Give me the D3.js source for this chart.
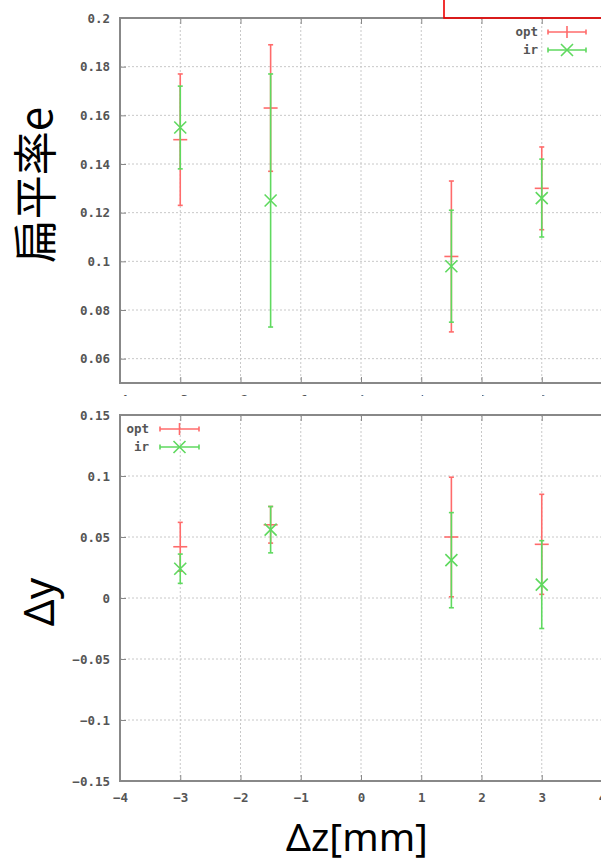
<!DOCTYPE html>
<html>
<head>
<meta charset="utf-8">
<script src="https://cdn.jsdelivr.net/npm/d3@7"></script>
<style>
  body { margin: 0; background: #fff; }
  svg { display: block; }
  .tick text { font-family: "DejaVu Sans Mono", monospace; font-size: 12.5px; font-weight: bold; fill: #555; }
  .grid line { stroke: #c8c8c8; stroke-dasharray: 2,2; }
  .frame { fill: none; stroke: #888; stroke-width: 2; }
</style>
</head>
<body>
<div id="chart"></div>
<script>
// x positions (Δz [mm])
var dz = [-3, -1.5, 1.5, 3];
var xTicks = [-4, -3, -2, -1, 0, 1, 2, 3, 4];

// top panel: flattening e
var eOpt    = [0.150, 0.163, 0.102, 0.130];
var eOptErr = [0.027, 0.026, 0.031, 0.017];
var eIr     = [0.155, 0.125, 0.098, 0.126];
var eIrErr  = [0.017, 0.052, 0.023, 0.016];
var eTicks  = [0.06, 0.08, 0.1, 0.12, 0.14, 0.16, 0.18, 0.2];

// bottom panel: Δy
var dyOpt    = [0.042, 0.060, 0.050, 0.044];
var dyOptErr = [0.020, 0.015, 0.049, 0.041];
var dyIr     = [0.024, 0.056, 0.031, 0.011];
var dyIrErr  = [0.012, 0.019, 0.039, 0.036];
var dyTicks  = [-0.15, -0.1, -0.05, 0, 0.05, 0.1, 0.15];

var RED = "#ff6b6b", GREEN = "#5fd95f";

var svg = d3.select("#chart").append("svg")
  .attr("width", 601).attr("height", 864);

var defs = svg.append("defs");
defs.append("clipPath").attr("id", "cutTop")
  .append("rect").attr("x", 0).attr("y", 0).attr("width", 601).attr("height", 396);

function panel(cfg) {
  var x = d3.scaleLinear().domain([-4, 4]).range([120, 602]);
  var y = d3.scaleLinear().domain(cfg.domain).range([cfg.bottom, cfg.top]);
  var g = svg.append("g");

  // grid
  var grid = g.append("g").attr("class", "grid");
  grid.selectAll(".gx").data(xTicks.slice(1, -1)).enter().append("line")
    .attr("x1", d => x(d)).attr("x2", d => x(d))
    .attr("y1", cfg.top).attr("y2", cfg.bottom);
  grid.selectAll(".gy").data(cfg.ticks.filter(d => d > cfg.domain[0] && d < cfg.domain[1])).enter().append("line")
    .attr("x1", 120).attr("x2", 602)
    .attr("y1", d => y(d)).attr("y2", d => y(d));

  // axes
  var yAxis = d3.axisLeft(y).tickValues(cfg.ticks).tickSize(-6).tickPadding(10)
    .tickFormat(d => (d === 0 ? "0" : d3.format("")(+d.toFixed(2))));
  var ya = g.append("g").attr("transform", "translate(120,0)").call(yAxis);
  ya.select(".domain").remove();
  ya.selectAll(".tick line").attr("stroke", "#888");

  var xAxis = d3.axisBottom(x).tickValues(xTicks).tickSize(-6).tickPadding(12)
    .tickFormat(d3.format("d"));
  var xa = g.append("g").attr("transform", "translate(0," + cfg.bottom + ")").call(xAxis);
  xa.select(".domain").remove();
  xa.selectAll(".tick line").attr("stroke", "#888");
  xa.selectAll(".tick text").attr("clip-path", cfg.clipLabels ? "url(#cutTop)" : null);

  // top ticks
  g.append("g").attr("transform", "translate(0," + cfg.top + ")")
    .call(d3.axisTop(x).tickValues(xTicks).tickSize(-6).tickFormat(""))
    .call(s => { s.select(".domain").remove(); s.selectAll(".tick line").attr("stroke", "#888"); });

  g.append("rect").attr("class", "frame")
    .attr("x", 120).attr("y", cfg.top).attr("width", 482).attr("height", cfg.bottom - cfg.top);

  function series(vals, errs, color, marker) {
    var s = g.append("g").attr("stroke", color).attr("stroke-width", 1.6).attr("fill", "none");
    dz.forEach(function (z, i) {
      var cx = x(z), lo = y(vals[i] - errs[i]), hi = y(vals[i] + errs[i]), cy = y(vals[i]);
      s.append("line").attr("x1", cx).attr("x2", cx).attr("y1", lo).attr("y2", hi);
      s.append("line").attr("x1", cx - 2.5).attr("x2", cx + 2.5).attr("y1", lo).attr("y2", lo);
      s.append("line").attr("x1", cx - 2.5).attr("x2", cx + 2.5).attr("y1", hi).attr("y2", hi);
      if (marker === "plus") {
        s.append("line").attr("x1", cx - 7).attr("x2", cx + 7).attr("y1", cy).attr("y2", cy);
      } else {
        s.append("path").attr("d", "M" + (cx - 6) + "," + (cy - 6) + "L" + (cx + 6) + "," + (cy + 6) +
          "M" + (cx - 6) + "," + (cy + 6) + "L" + (cx + 6) + "," + (cy - 6));
      }
    });
  }
  series(cfg.opt, cfg.optErr, RED, "plus");
  series(cfg.ir, cfg.irErr, GREEN, "cross");

  // legend
  var L = cfg.legend;
  [["opt", RED, "plus"], ["ir", GREEN, "cross"]].forEach(function (e, i) {
    var ly = L.y + i * 18;
    g.append("text").attr("x", L.tx).attr("y", ly).attr("dy", "0.35em")
      .attr("text-anchor", "end").attr("font-family", "DejaVu Sans Mono")
      .attr("font-size", 12.5).attr("font-weight", "bold").attr("fill", "#555").text(e[0]);
    var lg = g.append("g").attr("stroke", e[1]).attr("stroke-width", 1.6);
    lg.append("line").attr("x1", L.x1).attr("x2", L.x2).attr("y1", ly).attr("y2", ly);
    lg.append("line").attr("x1", L.x1).attr("x2", L.x1).attr("y1", ly - 2.5).attr("y2", ly + 2.5);
    lg.append("line").attr("x1", L.x2).attr("x2", L.x2).attr("y1", ly - 2.5).attr("y2", ly + 2.5);
    var mx = (L.x1 + L.x2) / 2;
    if (e[2] === "plus") {
      lg.append("line").attr("x1", mx).attr("x2", mx).attr("y1", ly - 6).attr("y2", ly + 6);
    } else {
      lg.append("path").attr("fill", "none").attr("d", "M" + (mx - 6) + "," + (ly - 6) + "L" + (mx + 6) + "," + (ly + 6) +
        "M" + (mx - 6) + "," + (ly + 6) + "L" + (mx + 6) + "," + (ly - 6));
    }
  });
}

panel({ domain: [0.05, 0.2], top: 18, bottom: 383, ticks: eTicks, clipLabels: true,
  opt: eOpt, optErr: eOptErr, ir: eIr, irErr: eIrErr,
  legend: { tx: 538, x1: 548, x2: 586, y: 32 } });

// white strip covering the cropped top panel labels
svg.append("rect").attr("x", 0).attr("y", 396).attr("width", 601).attr("height", 16).attr("fill", "#fff");

panel({ domain: [-0.15, 0.15], top: 415, bottom: 781, ticks: dyTicks, clipLabels: false,
  opt: dyOpt, optErr: dyOptErr, ir: dyIr, irErr: dyIrErr,
  legend: { tx: 149, x1: 160, x2: 199, y: 429 } });

// red annotation box at top right
svg.append("rect").attr("x", 444).attr("y", -2).attr("width", 200).attr("height", 20)
  .attr("fill", "none").attr("stroke", "#e00").attr("stroke-width", 1.6);

// axis titles
svg.append("text").attr("transform", "translate(52,185) rotate(-90)")
  .attr("text-anchor", "middle").attr("font-family", "Noto Sans CJK JP").attr("font-size", 44)
  .text("扁平率e");
svg.append("text").attr("transform", "translate(54,602) rotate(-90)")
  .attr("text-anchor", "middle").attr("font-family", "Noto Sans").attr("font-size", 42)
  .text("Δy");
svg.append("text").attr("x", 357).attr("y", 851)
  .attr("text-anchor", "middle").attr("font-family", "Noto Sans").attr("font-size", 39)
  .text("Δz[mm]");
</script>
</body>
</html>
